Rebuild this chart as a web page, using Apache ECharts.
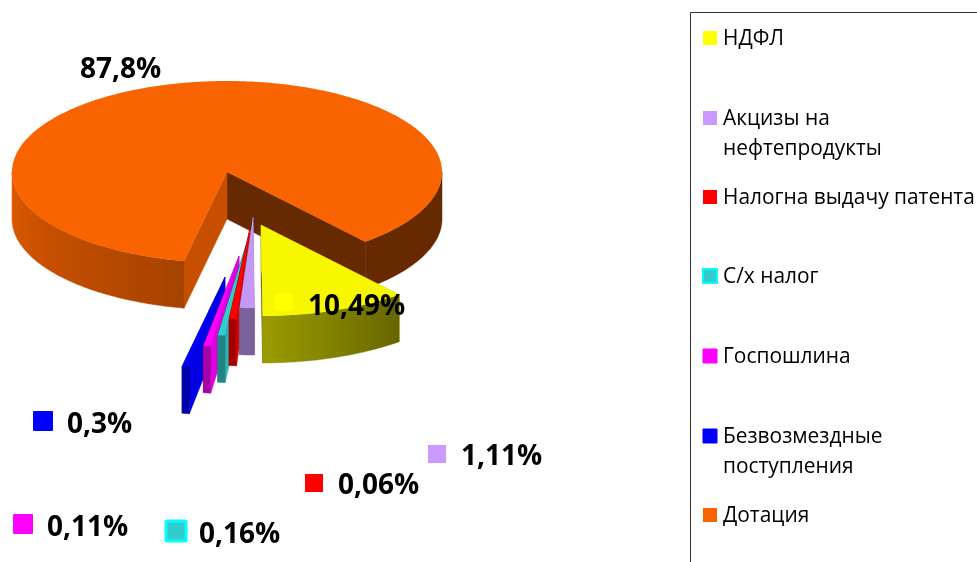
<!DOCTYPE html>
<html>
<head>
<meta charset="utf-8">
<style>html,body{margin:0;padding:0;background:#fff}#chart{width:977px;height:562px}</style>
<script src="https://cdn.jsdelivr.net/npm/echarts@6/dist/echarts.min.js"></script>
</head>
<body>
<div id="chart"></div>
<script>
// order follows the picture, clockwise from the right cut of the big slice
const categories = ['НДФЛ', 'Акцизы на\nнефтепродукты', 'Налогна выдачу патента', 'С/х налог', 'Госпошлина', 'Безвозмездные\nпоступления', 'Дотация'];
const percentLabels = ['10,49%', '1,11%', '0,06%', '0,16%', '0,11%', '0,3%', '87,8%'];
// shares as drawn: the thin slices in the picture are wider than their printed labels
const drawnShares = [11.0, 1.11, 0.55, 0.55, 0.55, 0.55, 85.69];
const firstAngle = 140; // degrees clockwise from 12 o'clock

const colors = ['#f7f700', '#c399f5', '#ff0000', '#33cccc', '#ff00ff', '#0000ff', '#f96400'];
const keyColors = ['#ffff00', '#cc99ff', '#ff0000', '#33cccc', '#ff00ff', '#0000ff', '#f96400'];

const cx = 227, cy = 172, rx = 215, ry = 91, depth = 47;
// how far each slice is pulled out of the pie, px
const explode = [[34, 53], [26, 45], [23, 56], [19, 73], [12, 84], [-2, 105], [0, 0]];
// back to front
const drawOrder = [6, 5, 4, 3, 2, 1, 0];

const rad = d => d * Math.PI / 180;
const onRim = (a, ox, oy) => [ox + rx * Math.sin(rad(a)), oy - ry * Math.cos(rad(a))];

function shade(hex, k) {
  const n = parseInt(hex.slice(1), 16);
  const f = v => Math.round(v * k);
  return `rgb(${f(n >> 16)},${f((n >> 8) & 255)},${f(n & 255)})`;
}

// wall brightness by rim angle
function wallLight(a) {
  const t = ((a % 360) + 360) % 360;
  if (t >= 180) return 0.63 + (t - 180) / 90 * 0.27;
  if (t >= 140) return 0.41 + (t - 140) / 40 * 0.22;
  return 0.41;
}

const total = drawnShares.reduce((s, v) => s + v, 0);
const startAngles = [];
drawnShares.reduce((acc, v, i) => { startAngles[i] = acc; return acc + v / total * 360; }, firstAngle);

function renderSlice(params, api) {
  const i = api.value(0);
  const a0 = startAngles[i], a1 = a0 + api.value(1) / total * 360;
  const ox = cx + explode[i][0], oy = cy + explode[i][1];
  const col = colors[i];
  const kids = [];

  // cut faces, the hidden one ends up under the top
  const pA = onRim(a0, ox, oy), pB = onRim(a1, ox, oy);
  const face = (p, fill) => ({
    type: 'polygon',
    shape: { points: [[ox, oy], p, [p[0], p[1] + depth], [ox, oy + depth]] },
    style: { fill, stroke: fill, lineWidth: 0.5 }
  });
  kids.push(face(pB, shade(col, 0.41)));
  kids.push(face(pA, shade(col, i === 6 ? 0.8 : 0.88)));

  // outer wall, front half of the rim only
  const walls = [[Math.max(a0, 90), Math.min(a1, 270)], [Math.max(a0, 450), Math.min(a1, 630)]];
  walls.forEach(([from, to]) => {
    if (to <= from) return;
    const up = [], down = [], stops = [];
    const xa = onRim(from, ox, oy)[0], xb = onRim(to, ox, oy)[0];
    for (let a = from; ; a += 1) {
      const ang = Math.min(a, to);
      const p = onRim(ang, ox, oy);
      up.push(p);
      down.unshift([p[0], p[1] + depth]);
      if (xb !== xa) stops.push({ offset: Math.min(1, Math.max(0, (p[0] - xa) / (xb - xa))), color: shade(col, wallLight(ang)) });
      if (ang >= to) break;
    }
    const grad = new echarts.graphic.LinearGradient(xa, 0, xb, 0, stops, true);
    kids.push({
      type: 'polygon',
      shape: { points: up.concat(down) },
      style: { fill: grad, stroke: grad, lineWidth: 0.5 }
    });
  });

  // top
  const top = [[ox, oy]];
  for (let a = a0; a < a1; a += 1) top.push(onRim(a, ox, oy));
  top.push(onRim(a1, ox, oy));
  kids.push({ type: 'polygon', shape: { points: top }, style: { fill: col } });

  return { type: 'group', children: kids };
}

// value labels with their little keys
const labelFont = 'bold 28px "Open Sans", "Noto Sans", sans-serif';
const labelSpots = [[275, 293, 18, 14], [428, 445, 18, 12], [305, 474, 18, 12], [166, 521, 20, 14], [13, 514, 20, 14], [33, 411, 20, 14], [80, 50, 0, 20]];
const labelGraphics = [];
percentLabels.forEach((txt, i) => {
  const [x, y, size, textDrop] = labelSpots[i];
  const hasKey = size > 0;
  if (hasKey) {
    labelGraphics.push({
      type: 'rect', x, y, z: 10,
      shape: { width: size, height: size, r: i === 3 || i === 4 || i === 5 ? 1 : 0 },
      style: { fill: keyColors[i], stroke: i === 3 ? '#00ffff' : keyColors[i], lineWidth: i === 3 ? 3 : 0 }
    });
  }
  labelGraphics.push({
    type: 'text', x: hasKey ? x + (i === 4 || i === 5 ? 34 : 33) : x, y: y + textDrop, z: 11,
    style: { text: txt, font: labelFont, fill: '#000', verticalAlign: 'middle' }
  });
});

// legend box runs off the page on the right and at the bottom
const legendFont = '20.9px "Open Sans", "Noto Sans", sans-serif';
const legendRows = [37, 117, 196, 275, 355, 435, 514];
const legendGraphics = [{
  type: 'rect', x: 690.5, y: 12.5, z: 5,
  shape: { width: 400, height: 700 },
  style: { fill: '#fff', stroke: '#333', lineWidth: 1 }
}];
categories.forEach((name, i) => {
  legendGraphics.push({
    type: 'rect', x: 703, y: legendRows[i] - 6, z: 6,
    shape: { width: 14, height: 14 },
    style: { fill: keyColors[i], stroke: i === 3 ? '#00ffff' : keyColors[i], lineWidth: i === 3 ? 2 : (i === 4 || i === 5 ? 1 : 0) }
  });
  legendGraphics.push({
    type: 'text', x: 723, y: legendRows[i] - 13, z: 6,
    style: { text: name, font: legendFont, fill: '#000', lineHeight: 30, verticalAlign: 'top' }
  });
});

const chart = echarts.init(document.getElementById('chart'), null, { renderer: 'canvas' });
chart.setOption({
  animation: false,
  backgroundColor: '#fff',
  series: [{
    type: 'custom',
    coordinateSystem: 'none',
    renderItem: renderSlice,
    silent: true,
    data: drawOrder.map(i => [i, drawnShares[i]])
  }],
  graphic: { elements: legendGraphics.concat(labelGraphics) }
});
</script>
</body>
</html>
